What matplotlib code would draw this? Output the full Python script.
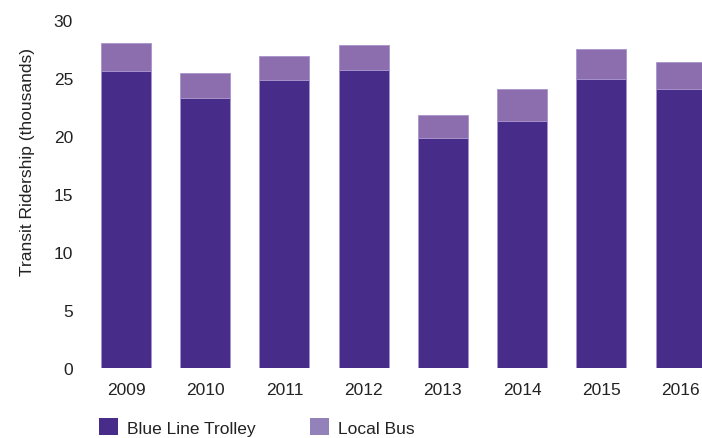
import matplotlib

matplotlib.use("Agg")

import matplotlib.pyplot as plt
from matplotlib.patches import Patch

years = ["2009", "2010", "2011", "2012", "2013", "2014", "2015", "2016"]
trolley = [25.6, 23.3, 24.8, 25.7, 19.8, 21.3, 24.9, 24.0]
local_bus = [2.4, 2.1, 2.1, 2.1, 2.0, 2.7, 2.6, 2.4]

trolley_color = "#472C8A"
bus_color = "#8C6EAE"
edge = "#A693CC"

plt.rcParams["font.family"] = ["Liberation Sans", "DejaVu Sans"]

W, H = 702, 439
fs = 12.5
fig = plt.figure(figsize=(W / 100, H / 100), dpi=100)
# axes box in pixel coords: left 80, right 702, y=0 at 369.3, y=30 at 20.7
ax = fig.add_axes([80 / W, (H - 369.3) / H, (702 - 80) / W, (369.3 - 20.7) / H])

x = list(range(len(years)))
ax.bar(x, trolley, width=0.63, color=trolley_color, edgecolor=edge, linewidth=0.6)
ax.bar(x, local_bus, bottom=trolley, width=0.63, color=bus_color, edgecolor=edge, linewidth=0.6)

ax.set_xlim(-0.58, 7.27)
ax.set_ylim(0, 30)
ax.set_yticks([0, 5, 10, 15, 20, 25, 30])
ax.set_xticks(x)
ax.set_xticklabels(years)
ax.tick_params(axis="both", length=0, labelsize=fs, colors="#222222")
ax.tick_params(axis="y", pad=5)
ax.tick_params(axis="x", pad=10)
for s in ax.spines.values():
    s.set_visible(False)

ax.set_ylabel("Transit Ridership (thousands)", fontsize=fs, color="#222222")
ax.yaxis.set_label_coords(-0.073, 0.595)

handles = [
    Patch(facecolor=trolley_color, label="Blue Line Trolley"),
    Patch(facecolor="#9382BA", label="Local Bus"),
]
fig.legend(
    handles=handles,
    loc="center left",
    bbox_to_anchor=(83 / W, 1 - 428 / H),
    ncol=2,
    frameon=False,
    fontsize=fs,
    handlelength=1.1,
    handleheight=1.1,
    handletextpad=0.55,
    columnspacing=3.1,
    labelcolor="#222222",
)

fig.savefig("out.png", dpi=100)
